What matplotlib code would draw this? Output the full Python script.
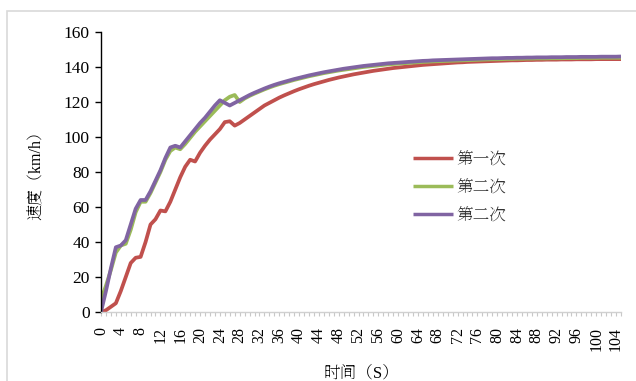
import matplotlib
matplotlib.use("Agg")
import matplotlib.pyplot as plt
from matplotlib.patches import Rectangle
from matplotlib.ticker import MultipleLocator
import numpy as np

time_s = list(range(0, 106))

run1 = [0, 1, 3, 5, 12, 20, 28, 31, 31.5, 40,
        50, 53, 58, 57.5, 63, 70, 77, 83, 87, 86,
        91, 95, 98.5, 101.5, 104.5, 108.5, 109, 106.5, 108, 110,
        112, 114, 116, 118, 119.5, 121, 122.5, 123.8, 125, 126.2,
        127.3, 128.3, 129.3, 130.2, 131, 131.8, 132.6, 133.3, 134, 134.6,
        135.2, 135.8, 136.3, 136.8, 137.3, 137.8, 138.2, 138.6, 139, 139.4,
        139.7, 140, 140.3, 140.6, 140.9, 141.2, 141.4, 141.6, 141.8, 142,
        142.2, 142.4, 142.6, 142.7, 142.9, 143, 143.1, 143.2, 143.3, 143.4,
        143.5, 143.6, 143.7, 143.8, 143.8, 143.9, 144, 144, 144.1, 144.1,
        144.2, 144.2, 144.2, 144.3, 144.3, 144.3, 144.4, 144.4, 144.4, 144.4,
        144.5, 144.5, 144.5, 144.5, 144.5, 144.5]

run2 = [7, 15, 24, 34, 38, 39, 47, 57, 63, 63,
        68, 74, 80, 87, 92, 94, 93, 96, 99.5, 103,
        106, 109, 112, 115, 118, 121, 123, 124, 120, 122,
        123.5, 124.8, 126, 127.2, 128.3, 129.3, 130.2, 131, 131.8, 132.6,
        133.3, 134, 134.7, 135.3, 135.9, 136.5, 137, 137.5, 138, 138.4,
        138.8, 139.2, 139.6, 140, 140.3, 140.6, 140.9, 141.2, 141.5, 141.7,
        141.9, 142.1, 142.3, 142.5, 142.7, 142.9, 143, 143.2, 143.3, 143.4,
        143.5, 143.6, 143.7, 143.8, 143.9, 144, 144.1, 144.2, 144.3, 144.4,
        144.4, 144.5, 144.6, 144.6, 144.7, 144.7, 144.8, 144.8, 144.9, 144.9,
        144.9, 145, 145, 145, 145.1, 145.1, 145.1, 145.2, 145.2, 145.2,
        145.2, 145.3, 145.3, 145.3, 145.3, 145.3]

run3 = [0, 12, 25, 37, 38, 41, 50, 59, 64, 64,
        69, 75, 81, 88, 94, 95, 94, 97.5, 101, 104.5,
        108, 111, 114.5, 118, 121, 119.5, 118, 119.5, 121, 122.5,
        124, 125.3, 126.5, 127.7, 128.8, 129.8, 130.7, 131.5, 132.3, 133.1,
        133.8, 134.5, 135.2, 135.8, 136.4, 137, 137.5, 138, 138.5, 139,
        139.4, 139.8, 140.2, 140.6, 140.9, 141.2, 141.5, 141.8, 142.1, 142.3,
        142.5, 142.7, 142.9, 143.1, 143.3, 143.5, 143.6, 143.8, 143.9, 144,
        144.1, 144.2, 144.3, 144.4, 144.5, 144.6, 144.7, 144.8, 144.9, 145,
        145, 145.1, 145.2, 145.2, 145.3, 145.3, 145.4, 145.4, 145.5, 145.5,
        145.5, 145.6, 145.6, 145.6, 145.7, 145.7, 145.7, 145.8, 145.8, 145.8,
        145.8, 145.9, 145.9, 145.9, 145.9, 146]

labels = ["第一次", "第二次", "第二次"]
colors = ["#C0504D", "#9BBB59", "#8064A2"]
y_ticks = [0, 20, 40, 60, 80, 100, 120, 140, 160]
x_tick_labels = list(range(0, 105, 4))

plt.rcParams["font.family"] = ["Liberation Serif", "Noto Serif SC"]

W, H = 636, 381
fig = plt.figure(figsize=(W / 100, H / 100), dpi=100)
ax = fig.add_axes([101 / W, 1 - 312 / H, 520 / W, 280 / H])

for series, lab, col in zip([run1, run2, run3], labels, colors):
    ax.plot(time_s, series, color=col, lw=2.7, label=lab, solid_capstyle="butt")

ax.set_xlim(0, 105)
ax.set_ylim(0, 160)
ax.set_yticks(y_ticks)
ax.set_yticklabels([str(v) for v in y_ticks], fontsize=12.5)
ax.set_xticks(x_tick_labels)
ax.set_xticklabels([str(v) for v in x_tick_labels], rotation=90, fontsize=11.5)
ax.xaxis.set_minor_locator(MultipleLocator(1))

for s in ["top", "right"]:
    ax.spines[s].set_visible(False)
ax.spines["left"].set_color("black")
ax.spines["left"].set_linewidth(1.0)
ax.spines["bottom"].set_color("#d0d0d0")
ax.spines["bottom"].set_linewidth(1.0)

ax.tick_params(axis="y", direction="out", length=4, width=1, color="black", pad=4)
ax.tick_params(axis="x", which="both", direction="out", length=3, width=0.8,
               color="#c8c8c8", pad=8)

ax.set_ylabel("速度（km/h）", fontsize=11.5, labelpad=14)
ax.set_xlabel("时间（S）", fontsize=12, labelpad=10)

leg = ax.legend(loc="upper left", bbox_to_anchor=(398 / W, 1 - 137 / H),
                bbox_transform=fig.transFigure, frameon=False,
                prop={"size": 12}, handlelength=2.4,
                handletextpad=0.2, labelspacing=0.72)
for line, txt in zip(leg.get_lines(), leg.get_texts()):
    line.set_linewidth(2.5)
    txt.set_color("#333333")

fig.add_artist(Rectangle((7 / W, -0.1), 1.2, 1 - 11 / H + 0.1,
                         transform=fig.transFigure, fill=False,
                         edgecolor="#d9d9d9", lw=1.2))

fig.savefig("out.png", dpi=100)
